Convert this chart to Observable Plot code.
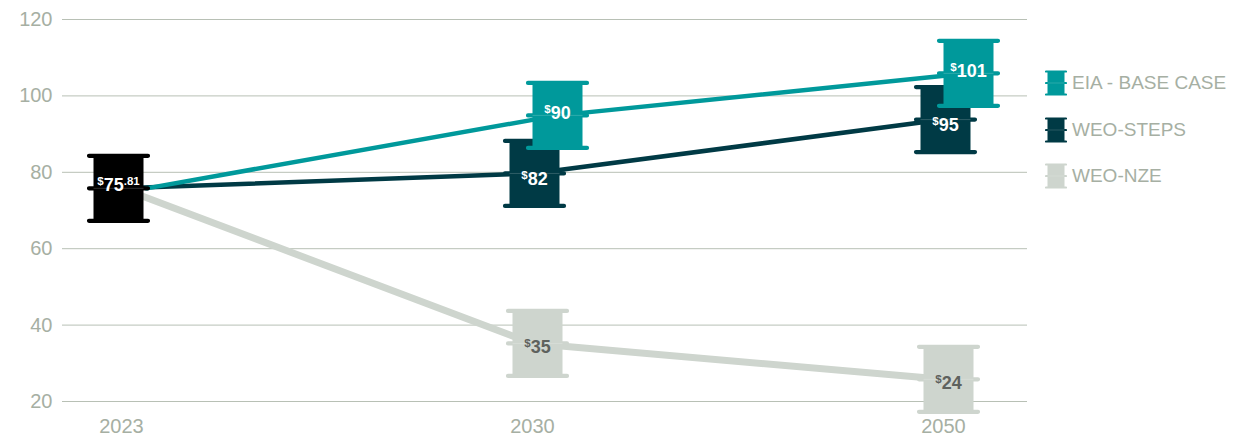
<!DOCTYPE html>
<html><head><meta charset="utf-8">
<script src="https://cdn.jsdelivr.net/npm/d3@7"></script>
<script src="https://cdn.jsdelivr.net/npm/@observablehq/plot@0.6"></script>
<style>
html,body{margin:0;padding:0;background:#fff;}
#wrap{position:relative;width:1244px;height:437px;overflow:hidden;}
#legend{position:absolute;left:1045px;top:70px;font-family:"Liberation Sans",Arial,sans-serif;font-size:19px;color:#a6afa3;}
.item{display:flex;align-items:center;height:26px;margin-bottom:20.5px;white-space:nowrap;}
.item svg{margin-right:5px;display:block;}
</style></head><body><div id="wrap"><div id="legend"></div></div>
<script>
// ---- data ----
const years = ["2023", "2030", "2050"];
const seriesNames = ["EIA - BASE CASE", "WEO-STEPS", "WEO-NZE"];
const seriesColors = ["#00999b", "#003a45", "#ced5ce"];
const labelColors = ["#ffffff", "#ffffff", "#5e625e"];
// plotted positions of each series (value units)
const eiaValues = [75.8, 94.9, 105.9];
const stepsValues = [75.8, 79.7, 93.8];
const nzeValues = [75.8, 35.2, 25.8];
// printed price labels
const eiaLabels = [null, "$90", "$101"];
const stepsLabels = [null, "$82", "$95"];
const nzeLabels = [null, "$35", "$24"];
const startLabel = "$75.81";
const startColor = "#000000";
const yTicks = [20, 40, 60, 80, 100, 120];

// ---- build tables ----
const mk = (vals, labs) => years.map((yr, i) => ({year: yr, v: vals[i], label: labs[i]}));
const eia = mk(eiaValues, eiaLabels);
const steps = mk(stepsValues, stepsLabels);
const nze = mk(nzeValues, nzeLabels);
const later = d => d.year !== years[0];
const start = [{year: years[0], v: eiaValues[0], label: startLabel}];

// barrel glyph (pixel-sized custom symbol)
const BW = 25, BH = 32.5, RW = 29.5, RT = 2.1;
const barrel = {draw(ctx) {
  ctx.moveTo(-BW, -BH); ctx.lineTo(BW, -BH); ctx.lineTo(BW, BH); ctx.lineTo(-BW, BH); ctx.closePath();
  for (const cy of [-BH, 0, BH]) {
    ctx.moveTo(-RW, cy - RT);
    ctx.lineTo(RW, cy - RT);
    ctx.arc(RW, cy, RT, -Math.PI / 2, Math.PI / 2);
    ctx.lineTo(-RW, cy + RT);
    ctx.arc(-RW, cy, RT, Math.PI / 2, 3 * Math.PI / 2);
    ctx.closePath();
  }
}};
const seam = {draw(ctx) { ctx.moveTo(-BW, 0); ctx.lineTo(BW, 0); }};

const font = "'Liberation Sans', Arial, sans-serif";
const EIA_DX = 25;

function barrelMarks(data, color, labColor, dx, dy) {
  return [
    Plot.dot(data, {x: "year", y: "v", symbol: barrel, fill: color, stroke: null, dx}),
    Plot.dot(data, {x: "year", y: "v", symbol: seam, stroke: "#ffffff", strokeOpacity: 0.18, strokeWidth: 1, dx}),
    Plot.text(data, {x: "year", y: "v", text: "label", fill: labColor, fontWeight: "bold", fontSize: 18, fontFamily: font, dx, dy})
  ];
}

const chart = Plot.plot({
  width: 1244,
  height: 437,
  marginLeft: 62,
  marginRight: 217,
  marginTop: 19,
  marginBottom: 36,
  style: {fontFamily: font, fontSize: "20px", color: "#a6afa3", background: "transparent"},
  x: {type: "point", domain: years, range: [120, 943], padding: 0, tickSize: 0, tickPadding: 17, label: null},
  y: {domain: [20, 120], ticks: yTicks, tickSize: 0, tickPadding: 10, label: null},
  marks: [
    Plot.ruleY(yTicks, {stroke: "#b8c0b5", strokeWidth: 1}),
    Plot.line(nze, {x: "year", y: "v", stroke: seriesColors[2], strokeWidth: 7}),
    Plot.line(steps, {x: "year", y: "v", stroke: seriesColors[1], strokeWidth: 4.5}),
    Plot.line(eia, {x: "year", y: "v", stroke: seriesColors[0], strokeWidth: 4.5, dx: EIA_DX}),
    ...barrelMarks(nze.filter(later), seriesColors[2], labelColors[2], 5, 4),
    ...barrelMarks(steps.filter(later), seriesColors[1], labelColors[1], 2, 6),
    ...barrelMarks(eia.filter(later), seriesColors[0], labelColors[0], EIA_DX, -2),
    ...barrelMarks(start, startColor, "#ffffff", -3, -3)
  ]
});
document.getElementById("wrap").appendChild(chart);

// superscript "$" and decimals in price labels
chart.querySelectorAll("text").forEach(t => {
  const s = t.textContent;
  if (!s.startsWith("$")) return;
  const [whole, dec] = s.slice(1).split(".");
  t.textContent = "";
  const add = (str, size, dy) => {
    const ts = document.createElementNS("http://www.w3.org/2000/svg", "tspan");
    ts.textContent = str;
    ts.setAttribute("font-size", size);
    if (dy) ts.setAttribute("dy", dy);
    t.appendChild(ts);
  };
  add("$", 11.5, -6);
  add(whole, 18, 6);
  if (dec) add("." + dec, 11.5, -6);
});

// legend
const legend = d3.select("#legend");
seriesNames.forEach((name, i) => {
  const item = legend.append("div").attr("class", "item");
  const svg = item.append("svg").attr("width", 22).attr("height", 26);
  svg.append("rect").attr("x", 2.5).attr("y", 1.5).attr("width", 17).attr("height", 23).attr("fill", seriesColors[i]);
  [1.5, 13, 24.5].forEach(y => svg.append("line").attr("x1", 1).attr("x2", 21).attr("y1", y).attr("y2", y)
    .attr("stroke", seriesColors[i]).attr("stroke-width", 2.2).attr("stroke-linecap", "round"));
  svg.append("line").attr("x1", 2.5).attr("x2", 19.5).attr("y1", 13).attr("y2", 13)
    .attr("stroke", "#fff").attr("stroke-opacity", 0.2).attr("stroke-width", 0.8);
  item.append("span").text(name);
});
</script>
</body></html>
